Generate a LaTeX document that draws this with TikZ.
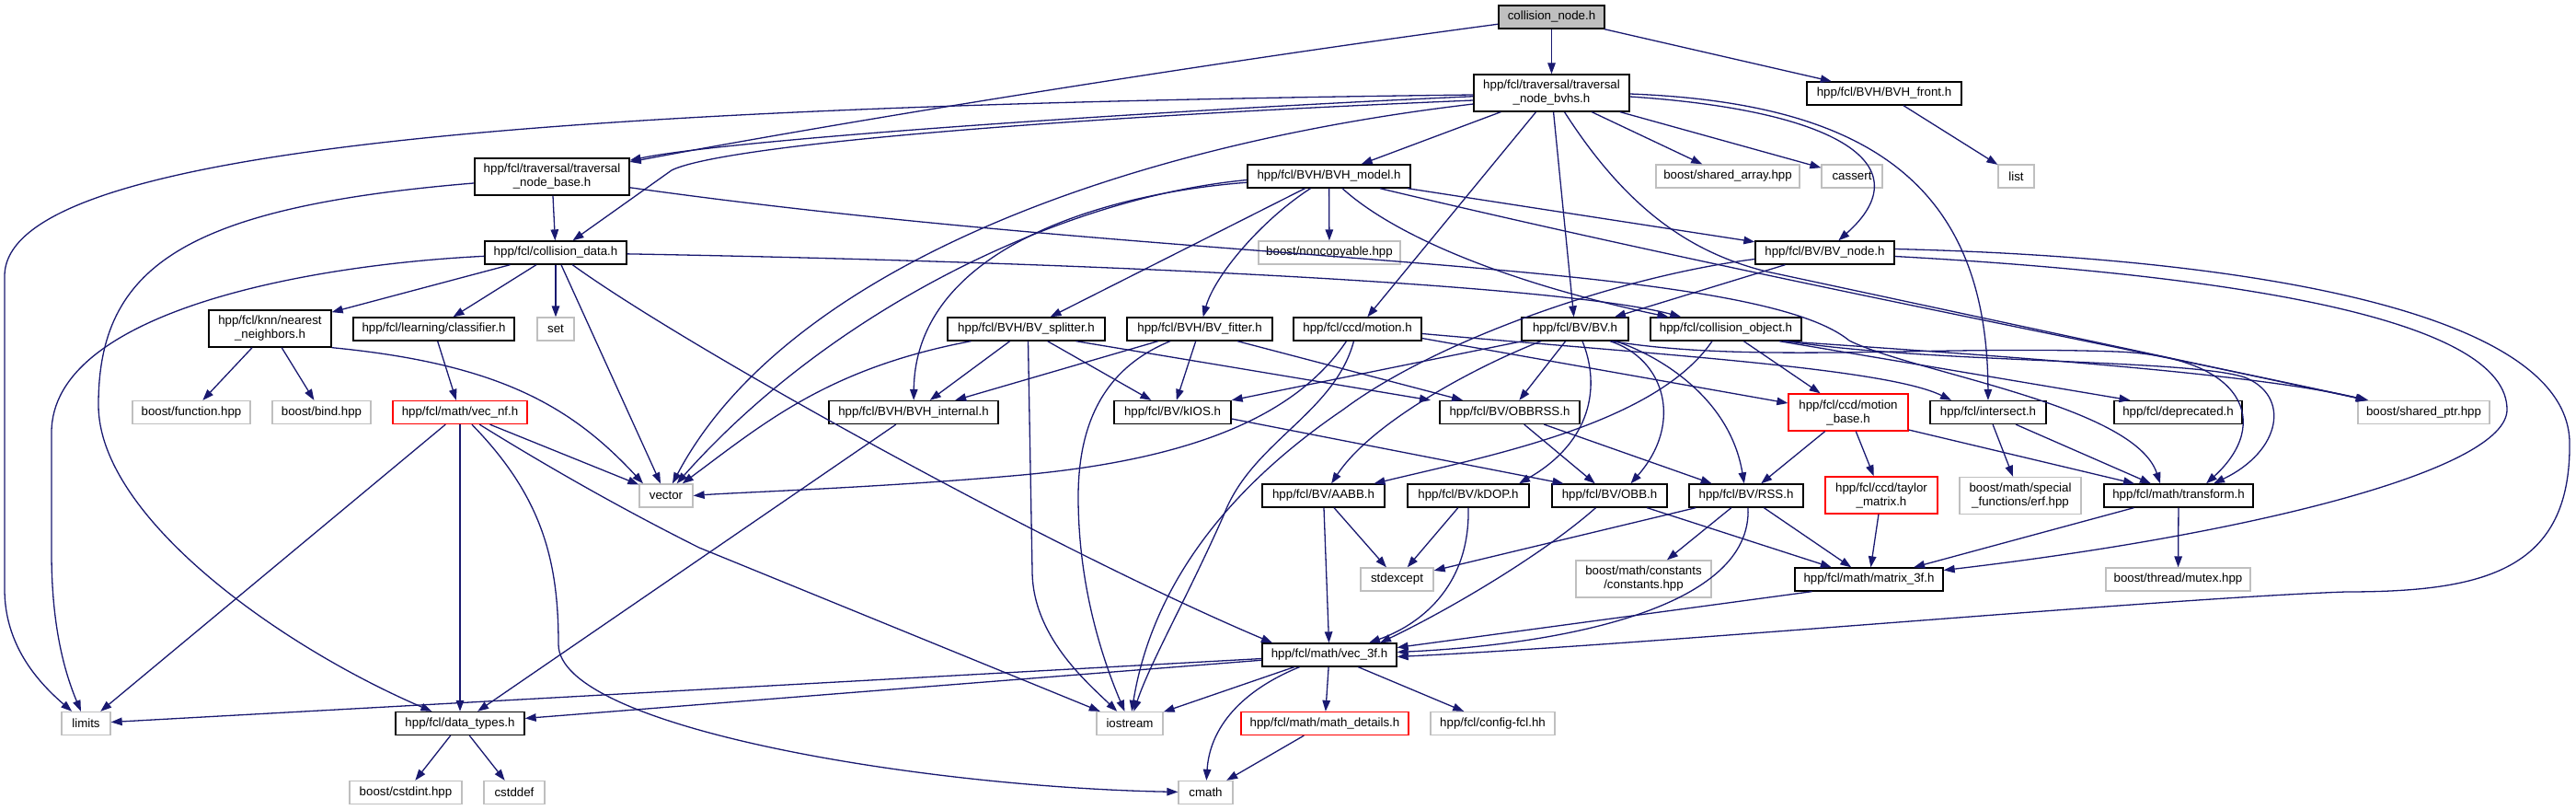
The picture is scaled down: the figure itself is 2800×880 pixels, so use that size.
\documentclass[tikz,border=0pt]{standalone}
\usepackage{fontspec}
\setmainfont{Liberation Sans}
\usetikzlibrary{arrows.meta}
\definecolor{edgec}{HTML}{191970}
\definecolor{extgray}{HTML}{BFBFBF}
\definecolor{rootfill}{HTML}{BFBFBF}
\begin{document}
\begin{tikzpicture}[x=1pt,y=-1pt,
  box/.style={draw=black, line width=1.3pt, fill=white, inner sep=0pt, minimum height=25pt,
    align=center, font=\fontsize{13.3}{15}\selectfont},
  two/.style={minimum height=40pt},
  w/.style={minimum width=#1},
  ext/.style={draw=extgray},
  redbox/.style={draw=red},
  root/.style={fill=rootfill},
  e/.style={draw=edgec, line width=1.3pt, -{Triangle[length=12pt,width=8.5pt]}}
]
\useasboundingbox (0,0) rectangle (2800,880);

% ---------- nodes ----------
\node[box,root,w=115pt] (cn) at (1686.5,18.5) {collision\_node.h};
\node[box,two,w=169pt] (tnbvhs) at (1686.5,101) {hpp/fcl/traversal/traversal\\\_node\_bvhs.h};
\node[box,w=168pt] (bvhfront) at (2048,101.5) {hpp/fcl/BVH/BVH\_front.h};
\node[box,two,w=168pt] (tnbase) at (600,192) {hpp/fcl/traversal/traversal\\\_node\_base.h};
\node[box,w=177pt] (bvhmodel) at (1444.5,191.5) {hpp/fcl/BVH/BVH\_model.h};
\node[box,ext,w=156pt] (sharr) at (1878,191.5) {boost/shared\_array.hpp};
\node[box,ext,w=66pt] (cassert) at (2013,191.5) {cassert};
\node[box,ext,w=39pt] (list) at (2191.5,191.5) {list};
\node[box,w=154pt] (cdata) at (604,274.5) {hpp/fcl/collision\_data.h};
\node[box,ext,w=154pt] (noncopy) at (1445,274.5) {boost/noncopyable.hpp};
\node[box,w=151pt] (bvnode) at (1983.5,274.5) {hpp/fcl/BV/BV\_node.h};
\node[box,two,w=133pt] (knn) at (293.5,357) {hpp/fcl/knn/nearest\\\_neighbors.h};
\node[box,w=175pt] (classifier) at (471.5,357.5) {hpp/fcl/learning/classifier.h};
\node[box,ext,w=40pt] (set) at (604,357.5) {set};
\node[box,w=171pt] (splitter) at (1115.5,357.5) {hpp/fcl/BVH/BV\_splitter.h};
\node[box,w=158pt] (fitter) at (1304,357.5) {hpp/fcl/BVH/BV\_fitter.h};
\node[box,w=139pt] (motion) at (1475.5,357.5) {hpp/fcl/ccd/motion.h};
\node[box,w=116pt] (bv) at (1712,357.5) {hpp/fcl/BV/BV.h};
\node[box,w=164pt] (cobj) at (1876,357.5) {hpp/fcl/collision\_object.h};
\node[box,ext,w=128pt] (bfunc) at (208,448) {boost/function.hpp};
\node[box,ext,w=107pt] (bbind) at (349.5,448) {boost/bind.hpp};
\node[box,redbox,w=146pt] (vecnf) at (500,448) {hpp/fcl/math/vec\_nf.h};
\node[box,w=184pt] (internal) at (993,448) {hpp/fcl/BVH/BVH\_internal.h};
\node[box,w=127pt] (kios) at (1274.5,448) {hpp/fcl/BV/kIOS.h};
\node[box,w=152pt] (obbrss) at (1641,448) {hpp/fcl/BV/OBBRSS.h};
\node[box,two,redbox,w=130pt] (mbase) at (2009,448) {hpp/fcl/ccd/motion\\\_base.h};
\node[box,w=126pt] (intersect) at (2161,448) {hpp/fcl/intersect.h};
\node[box,w=139pt] (deprecated) at (2367.5,448) {hpp/fcl/deprecated.h};
\node[box,ext,w=143pt] (shptr) at (2634.5,448) {boost/shared\_ptr.hpp};
\node[box,ext,w=58pt] (vector) at (724,538.5) {vector};
\node[box,w=133pt] (aabb) at (1438.5,538.5) {hpp/fcl/BV/AABB.h};
\node[box,w=132pt] (kdop) at (1596,538.5) {hpp/fcl/BV/kDOP.h};
\node[box,w=125pt] (obb) at (1749.5,538.5) {hpp/fcl/BV/OBB.h};
\node[box,w=124pt] (rss) at (1898,538.5) {hpp/fcl/BV/RSS.h};
\node[box,two,redbox,w=122pt] (taylor) at (2045,538) {hpp/fcl/ccd/taylor\\\_matrix.h};
\node[box,two,ext,w=132pt] (erf) at (2196,538.5) {boost/math/special\\\_functions/erf.hpp};
\node[box,w=162pt] (transform) at (2368,538.5) {hpp/fcl/math/transform.h};
\node[box,ext,w=79pt] (stdexcept) at (1518.5,629.5) {stdexcept};
\node[box,two,ext,w=147pt] (constants) at (1786.5,629) {boost/math/constants\\/constants.hpp};
\node[box,w=161pt] (matrix) at (2031.5,629.5) {hpp/fcl/math/matrix\_3f.h};
\node[box,ext,w=157pt] (mutex) at (2367.5,629.5) {boost/thread/mutex.hpp};
\node[box,w=146pt] (vec3f) at (1445,711.5) {hpp/fcl/math/vec\_3f.h};
\node[box,ext,w=53pt] (limits) at (93.5,786) {limits};
\node[box,w=140pt] (datatypes) at (500,786) {hpp/fcl/data\_types.h};
\node[box,ext,w=72pt] (iostream) at (1228,786) {iostream};
\node[box,redbox,w=182pt] (mathdet) at (1440,786) {hpp/fcl/math/math\_details.h};
\node[box,ext,w=135pt] (config) at (1622.5,786) {hpp/fcl/config-fcl.hh};
\node[box,ext,w=122pt] (cstdint) at (441,861) {boost/cstdint.hpp};
\node[box,ext,w=66pt] (cstddef) at (559,861) {cstddef};
\node[box,ext,w=59pt] (cmath) at (1310.5,861) {cmath};

% ---------- edges ----------
% collision_node.h
\draw[e] (cn) -- (tnbvhs);
\draw[e] (cn) .. controls (1300,70) and (900,135) .. (tnbase);
\draw[e] (cn) -- (bvhfront);
\draw[e] (bvhfront) -- (list);

% traversal_node_bvhs.h
\draw[e] (tnbvhs) .. controls (1300,118) and (800,150) .. (tnbase);
\draw[e] ([yshift=-2pt]tnbvhs.west) .. controls (600,115) and (5,160) .. (5,300) -- (5,640) .. controls (5,700) and (40,740) .. (limits);
\draw[e] ([yshift=-8pt]tnbvhs.west) .. controls (1100,130) and (780,160) .. (730,185) -- (cdata);
\draw[e] ([yshift=-12pt]tnbvhs.west) .. controls (1200,160) and (850,300) .. (vector);
\draw[e] (tnbvhs) -- (bvhmodel);
\draw[e] (tnbvhs) -- (motion);
\draw[e] (tnbvhs) -- (bv);
\draw[e] (tnbvhs) -- (sharr);
\draw[e] (tnbvhs) -- (cassert);
\draw[e] ([yshift=-4pt]tnbvhs.east) .. controls (2000,120) and (2090,180) .. (bvnode);
\draw[e] ([yshift=-1pt]tnbvhs.east) .. controls (2030,112) and (2160,200) .. (intersect);
\draw[e] ([xshift=14pt]tnbvhs.south) .. controls (1770,230) and (1840,275) .. (1920,295) -- (shptr);

% traversal_node_base.h
\draw[e] (tnbase) -- (cdata);
\draw[e] (tnbase) .. controls (200,225) and (107,290) .. (107,440) .. controls (107,560) and (300,700) .. (datatypes);
\draw[e] (tnbase) .. controls (1300,290) and (1900,280) .. (2010,370) .. controls (2080,405) and (2320,440) .. ([xshift=-20pt]transform.north);

% collision_data.h
\draw[e] (cdata) -- (knn);
\draw[e] (cdata) -- (classifier);
\draw[e] (cdata) -- (set);
\draw[e] (cdata) .. controls (330,288) and (56,340) .. (56,470) -- (56,600) .. controls (56,680) and (70,730) .. (limits);
\draw[e] (cdata) -- (vector);
\draw[e] (cdata) .. controls (750,380) and (1150,600) .. ([xshift=-62pt]vec3f.north);
\draw[e] (cdata) .. controls (1200,285) and (1700,310) .. (cobj);

% knn, classifier, vec_nf
\draw[e] (knn) -- (bfunc);
\draw[e] (knn) -- (bbind);
\draw[e] (knn.south east) .. controls (540,395) and (620,440) .. ([xshift=-25pt]vector.north);
\draw[e] (classifier) -- (vecnf);
\draw[e] (vecnf) -- (limits);
\draw[e] (vecnf) -- (datatypes);
\draw[e] (vecnf) .. controls (590,540) and (607,610) .. (607,700) .. controls (607,790) and (1000,855) .. (cmath);
\draw[e] (vecnf) .. controls (600,510) and (680,555) .. (760,595) -- (iostream);
\draw[e] (vecnf) -- (vector);

% BVH_model.h
\draw[e] (bvhmodel) -- (noncopy);
\draw[e] (bvhmodel) -- (bvnode);
\draw[e] (bvhmodel) .. controls (1520,260) and (1650,310) .. (cobj);
\draw[e] (bvhmodel) .. controls (1900,300) and (2300,375) .. (shptr);
\draw[e] (bvhmodel) -- (splitter);
\draw[e] ([xshift=-20pt]bvhmodel.south) .. controls (1370,240) and (1320,300) .. (fitter);
\draw[e] (bvhmodel) .. controls (1200,210) and (995,270) .. (internal);
\draw[e] ([yshift=-4pt]bvhmodel.west) .. controls (1150,215) and (900,340) .. (vector);

% BV_splitter.h
\draw[e] (splitter) -- (internal);
\draw[e] (splitter) -- (kios);
\draw[e] ([xshift=54pt]splitter.south) -- ([xshift=-86pt]obbrss.north);
\draw[e] ([xshift=-60pt]splitter.south) .. controls (900,400) and (830,460) .. (vector);
\draw[e] ([xshift=2pt]splitter.south) -- (1122,620) .. controls (1122,690) and (1180,740) .. (iostream);

% BV_fitter.h
\draw[e] (fitter) -- (internal);
\draw[e] (fitter) -- (kios);
\draw[e] ([xshift=41pt]fitter.south) -- ([xshift=-51pt]obbrss.north);
\draw[e] ([xshift=-32pt]fitter.south) .. controls (1200,400) and (1172,460) .. (1172,540) .. controls (1172,640) and (1200,720) .. (iostream);

\draw[e] (internal) -- (datatypes);
\draw[e] ([yshift=-7pt]kios.east) -- ([xshift=-50pt]obb.north);

% ccd/motion.h
\draw[e] ([xshift=-12pt]motion.south) .. controls (1410,450) and (1300,500) .. (1100,517) .. controls (950,530) and (800,535) .. (vector.east);
\draw[e] ([xshift=-4pt]motion.south) .. controls (1450,450) and (1360,480) .. (1330,560) .. controls (1290,650) and (1250,720) .. (iostream);
\draw[e] ([yshift=-10pt]motion.east) -- ([yshift=10pt]mbase.west);
\draw[e] ([yshift=-5pt]motion.east) .. controls (1800,385) and (2050,400) .. ([xshift=-40pt]intersect.north);

% BV/BV.h
\draw[e] ([xshift=-57pt]bv.south) -- (kios.north east);
\draw[e] ([xshift=-37pt]bv.south) .. controls (1600,400) and (1490,460) .. (aabb);
\draw[e] (bv) -- (obbrss);
\draw[e] ([xshift=8pt]bv.south) .. controls (1740,420) and (1730,480) .. ([xshift=55pt]kdop.north);
\draw[e] ([xshift=38pt]bv.south) .. controls (1810,390) and (1830,460) .. ([xshift=23pt]obb.north);
\draw[e] ([xshift=44pt]bv.south) .. controls (1800,385) and (1880,430) .. (rss);
\draw[e] ([xshift=40pt]bv.south) .. controls (1900,395) and (2100,375) .. (2300,382) .. controls (2440,387) and (2470,460) .. ([xshift=30pt]transform.north);

% BV/BV_node.h
\draw[e] (bvnode) -- (bv);
\draw[e] ([yshift=-7pt]bvnode.west) .. controls (1760,300) and (1560,370) .. (1460,445) .. controls (1320,540) and (1250,650) .. (iostream);
\draw[e] ([yshift=4pt]bvnode.east) .. controls (2450,280) and (2790,340) .. (2793,480) .. controls (2795,620) and (2700,643) .. (2550,643) .. controls (2350,650) and (1800,700) .. ([yshift=-2pt]vec3f.east);
\draw[e] ([yshift=-4pt]bvnode.east) .. controls (2450,300) and (2725,350) .. (2725,445) .. controls (2725,510) and (2450,580) .. ([yshift=10pt]matrix.east);

% collision_object.h
\draw[e] ([xshift=-15pt]cobj.south) .. controls (1800,460) and (1620,495) .. ([xshift=55pt]aabb.north);
\draw[e] (cobj) -- (mbase);
\draw[e] ([xshift=58pt]cobj.south) -- ([xshift=-52pt]deprecated.north);
\draw[e] ([xshift=62pt]cobj.south) .. controls (2150,385) and (2450,405) .. ([xshift=-62pt]shptr.north);
\draw[e] ([xshift=66pt]cobj.south) .. controls (2100,395) and (2380,390) .. (2440,410) .. controls (2490,430) and (2480,490) .. ([xshift=38pt]transform.north);

% motion_base, intersect, transform
\draw[e] (mbase) -- (rss);
\draw[e] (mbase) -- (taylor);
\draw[e] ([yshift=-19pt]mbase.east) -- ([xshift=-48pt]transform.north);
\draw[e] (intersect) -- (erf);
\draw[e] (intersect) -- (transform);
\draw[e] (transform) -- (matrix);
\draw[e] (transform) -- (mutex);
\draw[e] (taylor) -- (matrix);

% BV leaf headers
\draw[e] (obbrss) -- (obb);
\draw[e] (obbrss) -- (rss);
\draw[e] (aabb) -- (stdexcept);
\draw[e] (aabb) -- (vec3f);
\draw[e] (kdop) -- (stdexcept);
\draw[e] (kdop.south) .. controls (1598,640) and (1540,680) .. ([xshift=43pt]vec3f.north);
\draw[e] (obb) -- (matrix);
\draw[e] ([xshift=-15pt]obb.south) .. controls (1680,600) and (1580,660) .. ([xshift=55pt]vec3f.north);
\draw[e] (rss) -- (matrix);
\draw[e] (rss) -- (stdexcept);
\draw[e] (rss) -- (constants);
\draw[e] ([xshift=2pt]rss.south) .. controls (1905,660) and (1700,700) .. ([yshift=3pt]vec3f.east);
\draw[e] ([xshift=-62pt]matrix.south) -- ([yshift=8pt]vec3f.east);

% vec_3f.h and below
\draw[e] (vec3f) -- (limits);
\draw[e] (vec3f) -- (datatypes);
\draw[e] (vec3f) -- (iostream);
\draw[e] (vec3f) -- (mathdet);
\draw[e] (vec3f) -- (config);
\draw[e] (vec3f) .. controls (1350,750) and (1315,790) .. (cmath);
\draw[e] (mathdet) -- (cmath);
\draw[e] (datatypes) -- (cstdint);
\draw[e] (datatypes) -- (cstddef);
\end{tikzpicture}
\end{document}
